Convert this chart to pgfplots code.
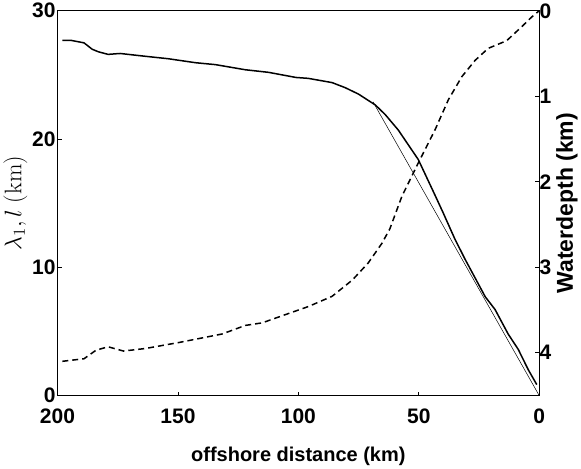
\RequirePackage{fix-cm}
\documentclass[border=0pt]{standalone}
\usepackage[no-math]{fontspec}
\setmainfont{Liberation Sans}
\usepackage{graphicx}
\usepackage{pgfplots}
\pgfplotsset{compat=1.18}

% lambda_1 (km) against offshore distance (km)
\pgfplotstableread{
d    lam
198  27.70
194.6 27.70
189  27.50
185.6 27.00
183  26.80
179  26.60
174  26.67
163.5 26.45
154  26.26
142.7 25.95
134.4 25.80
122  25.40
112.4 25.20
101  24.80
95.9 24.73
86   24.40
80.5 24.00
75   23.50
68   22.65
63.9 21.90
58.5 20.70
50.2 18.40
43.2 15.60
40   14.30
35   12.20
30.7 10.60
22.4 7.70
18.3 6.70
12.9 4.80
8.7  3.60
4.5  2.00
1    0.85
}\lambdatab

% water depth (km)
\pgfplotstableread{
d    h
198  4.10
189  4.07
184  3.97
179  3.93
172.6 3.98
163.5 3.95
149.6 3.88
131.6 3.78
122  3.68
115  3.65
105  3.55
95.9 3.46
86   3.34
77.6 3.15
71   2.95
65.3 2.72
62   2.55
57   2.17
50.2 1.78
43.2 1.39
37.7 1.04
32.1 0.77
26.6 0.58
21.2 0.44
13.5 0.35
7    0.18
3    0.07
0    0.00
}\depthtab

\begin{document}
\begin{tikzpicture}
\pgfplotsset{
  every axis/.append style={
    scale only axis, width=482pt, height=385pt,
    xmin=0, xmax=200, x dir=reverse,
    tick align=inside, major tick length=4pt,
    tick style={black, line width=0.6pt},
    axis line style={line width=0.8pt},
    tick label style={font=\fontsize{21}{21}\selectfont\bfseries},
    label style={font=\fontsize{20}{20}\selectfont\bfseries},
    /pgf/number format/assume math mode=true,
  },
}
\begin{axis}[
  ymin=0, ymax=30, ytick={0,10,20,30},
  xtick={0,50,100,150,200},
  xtick pos=left, ytick pos=left,
  xticklabel style={yshift=-10pt},
  yticklabel style={xshift=1.5pt},
  xlabel={offshore distance (km)},
  xlabel style={yshift=-16pt},
  ylabel={\scalebox{1.2}{$\lambda_1, l\ (\mathrm{km})$}},
  ylabel style={font=\fontsize{20}{20}\selectfont, yshift=-2pt},
]
\addplot[black, line width=1.5pt] table[x=d, y=lam] {\lambdatab};
\addplot[black, line width=0.5pt] coordinates {(69,22.9) (0,0)};
\end{axis}
\begin{axis}[
  axis y line*=right, axis x line=none,
  ymin=0, ymax=4.5, y dir=reverse, ytick={0,1,2,3,4},
  yticklabel style={xshift=-3pt},
  ylabel={Waterdepth (km)},
  ylabel style={font=\fontsize{23}{23}\selectfont\bfseries, yshift=2pt},
]
\addplot[black, line width=1.5pt, dash pattern=on 6pt off 4pt] table[x=d, y=h] {\depthtab};
\end{axis}
\end{tikzpicture}
\end{document}
